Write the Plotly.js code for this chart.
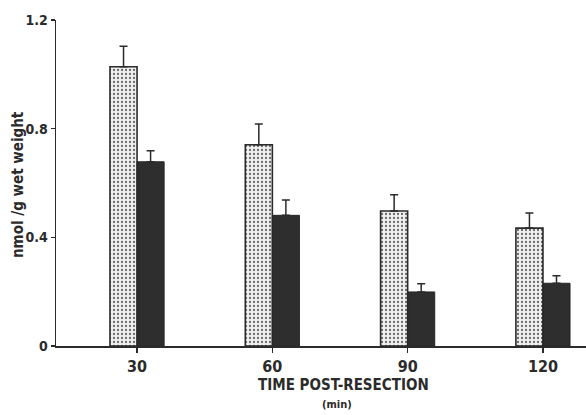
<!DOCTYPE html>
<html>
<head>
<meta charset="utf-8">
<script src="https://cdn.plot.ly/plotly-3.0.1.min.js"></script>
<style>html,body{margin:0;padding:0;background:#fff;}#chart{width:586px;height:415px;}</style>
</head>
<body>
<div id="chart"></div>
<script>
var categories = ['30', '60', '90', '120'];
var lightValues = [1.028, 0.741, 0.497, 0.434];
var lightErrors = [0.075, 0.076, 0.060, 0.056];
var darkValues = [0.678, 0.481, 0.199, 0.231];
var darkErrors = [0.041, 0.056, 0.030, 0.028];
var zeros = [0, 0, 0, 0];

var FONT = '"DejaVu Sans Condensed", "Liberation Sans Narrow", sans-serif';
var INK = '#2b2b2b';

var traces = [
  {
    type: 'bar', x: categories, y: lightValues, name: 'light',
    marker: {
      color: '#ececec',
      line: {color: INK, width: 1.6},
      pattern: {shape: '.', fgcolor: '#6a6a6a', bgcolor: '#f0f0f0', size: 4, solidity: 0.25}
    },
    error_y: {type: 'data', symmetric: false, array: lightErrors, arrayminus: zeros,
              color: INK, thickness: 1.5, width: 4}
  },
  {
    type: 'bar', x: categories, y: darkValues, name: 'dark',
    marker: {color: '#2e2e2e', line: {color: '#262626', width: 1}},
    error_y: {type: 'data', symmetric: false, array: darkErrors, arrayminus: zeros,
              color: INK, thickness: 1.5, width: 4}
  }
];

var layout = {
  width: 586, height: 415,
  margin: {l: 56, r: 0, t: 20, b: 69},
  paper_bgcolor: '#fff', plot_bgcolor: '#fff',
  showlegend: false,
  barmode: 'group', bargap: 0.6, bargroupgap: 0,
  font: {family: FONT, color: INK},
  xaxis: {
    type: 'category', range: [-0.599, 3.318],
    showline: true, linecolor: INK, linewidth: 1.5,
    ticks: 'outside', ticklen: 5, tickcolor: INK, tickwidth: 1.2,
    showgrid: false, zeroline: false,
    tickfont: {family: FONT, size: 16, color: INK, weight: 'bold'}
  },
  yaxis: {
    range: [0, 1.2], tickvals: [0, 0.4, 0.8, 1.2], ticktext: ['0', '0.4', '0.8', '1.2'],
    showline: true, linecolor: INK, linewidth: 1.5,
    ticks: 'outside', ticklen: 4, tickcolor: INK, tickwidth: 1.2,
    ticklabelstandoff: 0,
    showgrid: false, zeroline: false,
    tickfont: {family: FONT, size: 14, color: INK, weight: 'bold'}
  },
  annotations: [
    {text: 'nmol /g wet weight', xref: 'paper', yref: 'paper', x: (18 - 56) / 530, y: (346 - 185) / 326,
     xanchor: 'center', yanchor: 'middle', textangle: -90, showarrow: false,
     font: {family: FONT, size: 15, color: INK, weight: 'bold'}},
    {text: 'TIME POST-RESECTION', xref: 'paper', yref: 'paper', x: (343 - 56) / 530, y: -0.12,
     xanchor: 'center', yanchor: 'middle', showarrow: false,
     font: {family: FONT, size: 15, color: INK, weight: 'bold'}},
    {text: '(min)', xref: 'paper', yref: 'paper', x: (337 - 56) / 530, y: -0.18,
     xanchor: 'center', yanchor: 'middle', showarrow: false,
     font: {family: FONT, size: 11, color: INK, weight: 'bold'}}
  ]
};

Plotly.newPlot('chart', traces, layout, {displayModeBar: false, staticPlot: true});
</script>
</body>
</html>
